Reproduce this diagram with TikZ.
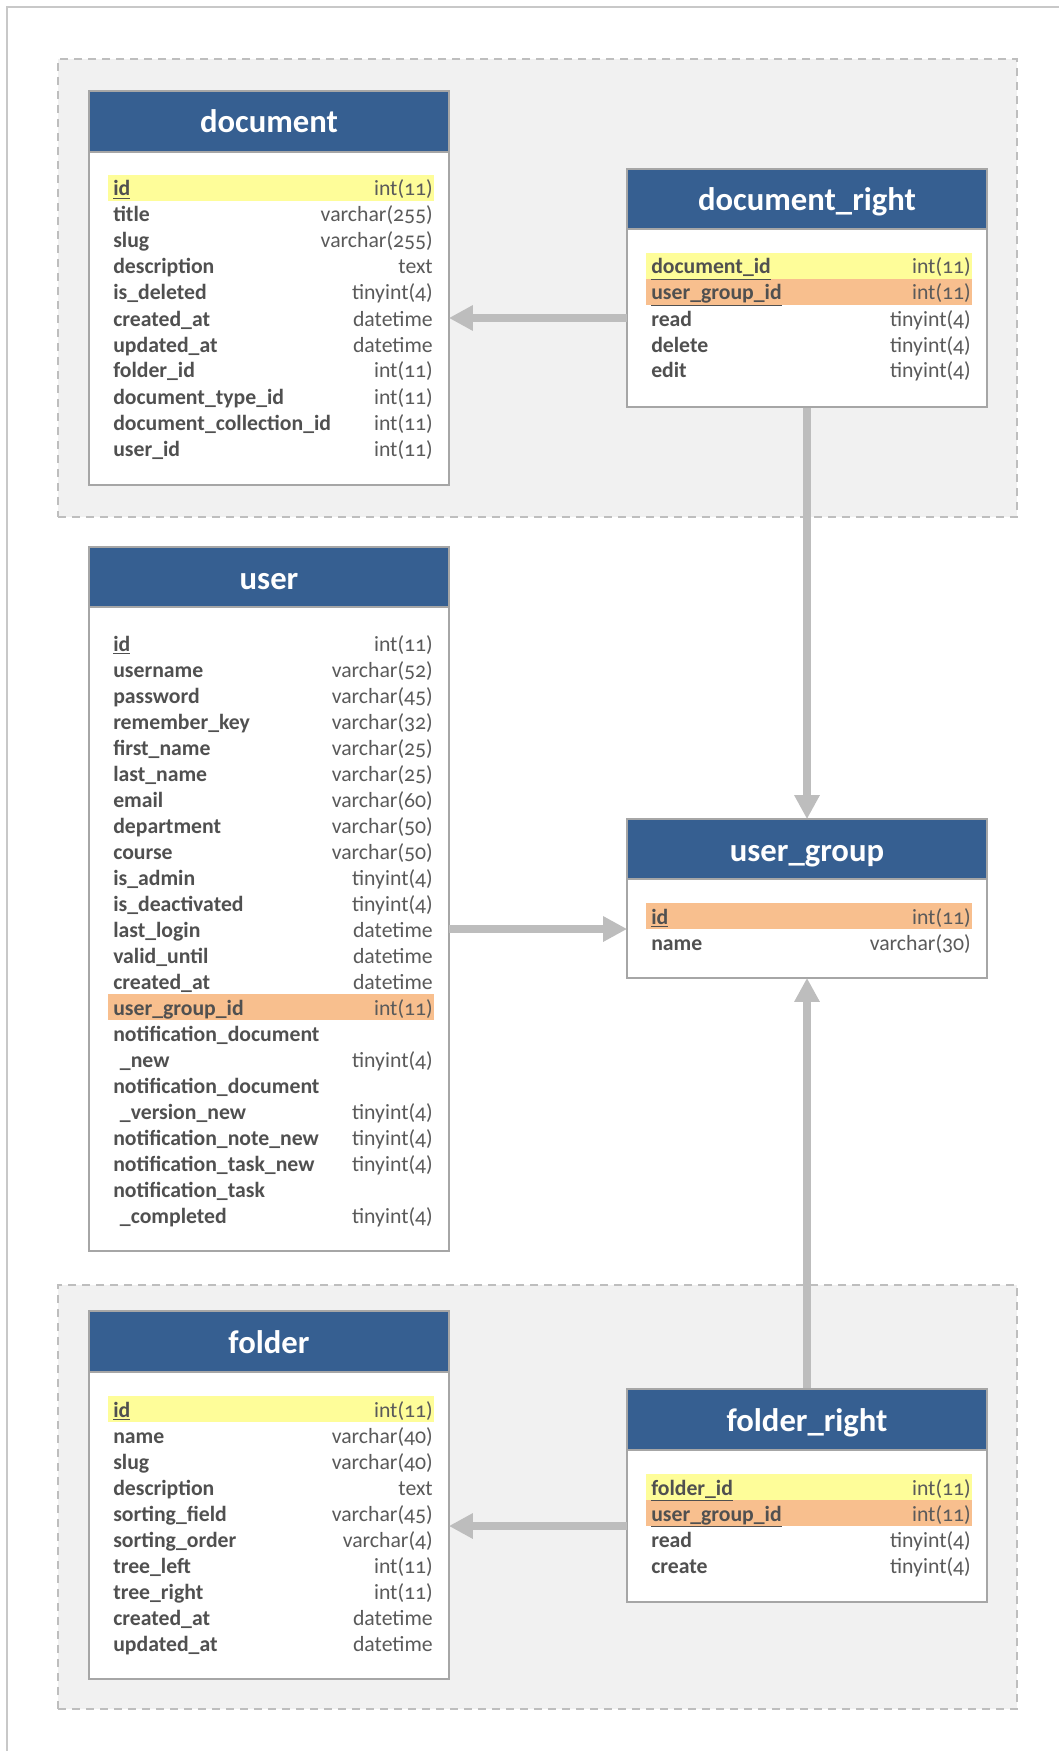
\documentclass[tikz,border=0pt]{standalone}
\usepackage{fontspec}
\setmainfont{Carlito}[Numbers=OldStyle]
\usetikzlibrary{fit,arrows.meta}

\definecolor{hdrblue}{HTML}{365F91}
\definecolor{pkyellow}{HTML}{FEFD99}
\definecolor{fkorange}{HTML}{F8BF8E}
\definecolor{groupfill}{HTML}{F1F1F1}
\definecolor{groupline}{HTML}{BEBEBE}
\definecolor{tableline}{HTML}{A6A6A6}
\definecolor{linkgray}{HTML}{BDBDBD}
\definecolor{fieldtext}{HTML}{505050}
\definecolor{typetext}{HTML}{5A5A5A}
\definecolor{framegray}{HTML}{C8C8C8}

% row helpers: \tx = name x, \tr = type right edge, \ty = centre of first row
\newcommand\fld[4]{%
  \node[fname] (#1) at (\tx,\ty+26*#2+8) {#3};
  \node[ftype] (#1-type) at (\tr,\ty+26*#2+8) {#4};}
\newcommand\fldonly[3]{%
  \node[fname] (#1) at (\tx,\ty+26*#2+8) {#3};}
\newcommand\hilite[2]{%
  \fill[#1] (\tx-5,\ty+26*#2-13) rectangle (\tr+1,\ty+26*#2+13);}

\begin{document}
\begin{tikzpicture}[x=0.75pt,y=-0.75pt,
  group/.style={draw=groupline, fill=groupfill, dashed, dash pattern=on 6pt off 4.5pt, line width=1.5pt},
  tablebox/.style={draw=tableline, fill=white, line width=1.8pt, inner sep=0pt},
  tablehead/.style={draw=tableline, fill=hdrblue, line width=1.8pt, inner sep=0pt},
  tabletitle/.style={text=white, font=\fontsize{24.5}{28}\selectfont\bfseries, anchor=base, inner sep=0pt},
  fname/.style={anchor=base west, inner sep=0pt, text=fieldtext, font=\fontsize{16.3}{19}\selectfont\bfseries},
  ftype/.style={anchor=base east, inner sep=0pt, text=typetext, font=\fontsize{16.3}{19}\selectfont},
  link/.style={draw=linkgray, line width=6pt},
  linkarrow/.style={link, -{Triangle[length=18pt,width=18pt]}, shorten >=-1pt}
]
\useasboundingbox (0,0) rectangle (1059,1751);

% page frame (top and left edges)
\draw[framegray, line width=1.8pt] (1059,7) -- (7,7) -- (7,1751);

% dashed groups
\node[group, fit={(58,59) (1017,517)}, inner sep=0pt] (docgroup) {};
\node[group, fit={(58,1285) (1017,1709)}, inner sep=0pt] (foldergroup) {};

% ---------------- document ----------------
\node[tablebox, fit={(89,91) (449,485)}] (doc) {};
\node[tablehead, fit={(89,91) (449,152)}] (doc-head) {};
\node[tabletitle] (doc-title) at (269,133) {document};
\def\tx{113}\def\tr{433}\def\ty{188}
\hilite{pkyellow}{0}
\fld{doc-id}{0}{\underline{id}}{int(11)}
\fld{doc-title-f}{1}{title}{varchar(255)}
\fld{doc-slug}{2}{slug}{varchar(255)}
\fld{doc-desc}{3}{description}{text}
\fld{doc-del}{4}{is\_deleted}{tinyint(4)}
\fld{doc-created}{5}{created\_at}{datetime}
\fld{doc-updated}{6}{updated\_at}{datetime}
\fld{doc-folder}{7}{folder\_id}{int(11)}
\fld{doc-type}{8}{document\_type\_id}{int(11)}
\fld{doc-coll}{9}{document\_collection\_id}{int(11)}
\fld{doc-user}{10}{user\_id}{int(11)}

% ---------------- document_right ----------------
\node[tablebox, fit={(627,169) (987,407)}] (docright) {};
\node[tablehead, fit={(627,169) (987,229)}] (docright-head) {};
\node[tabletitle] (docright-title) at (807,211) {document\_right};
\def\tx{651}\def\tr{971}\def\ty{266}
\hilite{pkyellow}{0}
\hilite{fkorange}{1}
\fld{dr-doc}{0}{\underline{document\_id}}{int(11)}
\fld{dr-group}{1}{\underline{user\_group\_id}}{int(11)}
\fld{dr-read}{2}{read}{tinyint(4)}
\fld{dr-delete}{3}{delete}{tinyint(4)}
\fld{dr-edit}{4}{edit}{tinyint(4)}
\coordinate (dr-link) at (627,318);

% ---------------- user ----------------
\node[tablebox, fit={(89,547) (449,1251)}] (user) {};
\node[tablehead, fit={(89,547) (449,607)}] (user-head) {};
\node[tabletitle] (user-title) at (269,589) {user};
\def\tx{113}\def\tr{433}\def\ty{643}
\hilite{fkorange}{14}
\fld{u-id}{0}{\underline{id}}{int(11)}
\fld{u-username}{1}{username}{varchar(52)}
\fld{u-password}{2}{password}{varchar(45)}
\fld{u-remember}{3}{remember\_key}{varchar(32)}
\fld{u-first}{4}{first\_name}{varchar(25)}
\fld{u-last}{5}{last\_name}{varchar(25)}
\fld{u-email}{6}{email}{varchar(60)}
\fld{u-dept}{7}{department}{varchar(50)}
\fld{u-course}{8}{course}{varchar(50)}
\fld{u-admin}{9}{is\_admin}{tinyint(4)}
\fld{u-deact}{10}{is\_deactivated}{tinyint(4)}
\fld{u-login}{11}{last\_login}{datetime}
\fld{u-valid}{12}{valid\_until}{datetime}
\fld{u-created}{13}{created\_at}{datetime}
\fld{u-group}{14}{user\_group\_id}{int(11)}
\fldonly{u-nd}{15}{notification\_document}
\fld{u-nd2}{16}{\hspace{5pt}\_new}{tinyint(4)}
\fldonly{u-ndv}{17}{notification\_document}
\fld{u-ndv2}{18}{\hspace{5pt}\_version\_new}{tinyint(4)}
\fld{u-nn}{19}{notification\_note\_new}{tinyint(4)}
\fld{u-nt}{20}{notification\_task\_new}{tinyint(4)}
\fldonly{u-ntc}{21}{notification\_task}
\fld{u-ntc2}{22}{\hspace{5pt}\_completed}{tinyint(4)}
\coordinate (u-link) at (449,929);

% ---------------- user_group ----------------
\node[tablebox, fit={(627,819) (987,978)}] (usergroup) {};
\node[tablehead, fit={(627,819) (987,879)}] (usergroup-head) {};
\node[tabletitle] (usergroup-title) at (807,861) {user\_group};
\def\tx{651}\def\tr{971}\def\ty{916}
\hilite{fkorange}{0}
\fld{ug-id}{0}{\underline{id}}{int(11)}
\fld{ug-name}{1}{name}{varchar(30)}

% ---------------- folder ----------------
\node[tablebox, fit={(89,1311) (449,1679)}] (folder) {};
\node[tablehead, fit={(89,1311) (449,1372)}] (folder-head) {};
\node[tabletitle] (folder-title) at (269,1353) {folder};
\def\tx{113}\def\tr{433}\def\ty{1409}
\hilite{pkyellow}{0}
\fld{f-id}{0}{\underline{id}}{int(11)}
\fld{f-name}{1}{name}{varchar(40)}
\fld{f-slug}{2}{slug}{varchar(40)}
\fld{f-desc}{3}{description}{text}
\fld{f-sfield}{4}{sorting\_field}{varchar(45)}
\fld{f-sorder}{5}{sorting\_order}{varchar(4)}
\fld{f-left}{6}{tree\_left}{int(11)}
\fld{f-right}{7}{tree\_right}{int(11)}
\fld{f-created}{8}{created\_at}{datetime}
\fld{f-updated}{9}{updated\_at}{datetime}

% ---------------- folder_right ----------------
\node[tablebox, fit={(627,1389) (987,1602)}] (folderright) {};
\node[tablehead, fit={(627,1389) (987,1450)}] (folderright-head) {};
\node[tabletitle] (folderright-title) at (807,1431) {folder\_right};
\def\tx{651}\def\tr{971}\def\ty{1487}
\hilite{pkyellow}{0}
\hilite{fkorange}{1}
\fld{fr-folder}{0}{\underline{folder\_id}}{int(11)}
\fld{fr-group}{1}{\underline{user\_group\_id}}{int(11)}
\fld{fr-read}{2}{read}{tinyint(4)}
\fld{fr-create}{3}{create}{tinyint(4)}
\coordinate (fr-link) at (627,1526);

% ---------------- relations ----------------
\draw[linkarrow] (dr-link) -- (doc.east |- dr-link);
\draw[linkarrow] (docright.south) -- (usergroup.north);
\draw[linkarrow] (u-link) -- (usergroup.west |- u-link);
\draw[linkarrow] (folderright.north) -- (usergroup.south);
\draw[linkarrow] (fr-link) -- (folder.east |- fr-link);
\end{tikzpicture}
\end{document}
